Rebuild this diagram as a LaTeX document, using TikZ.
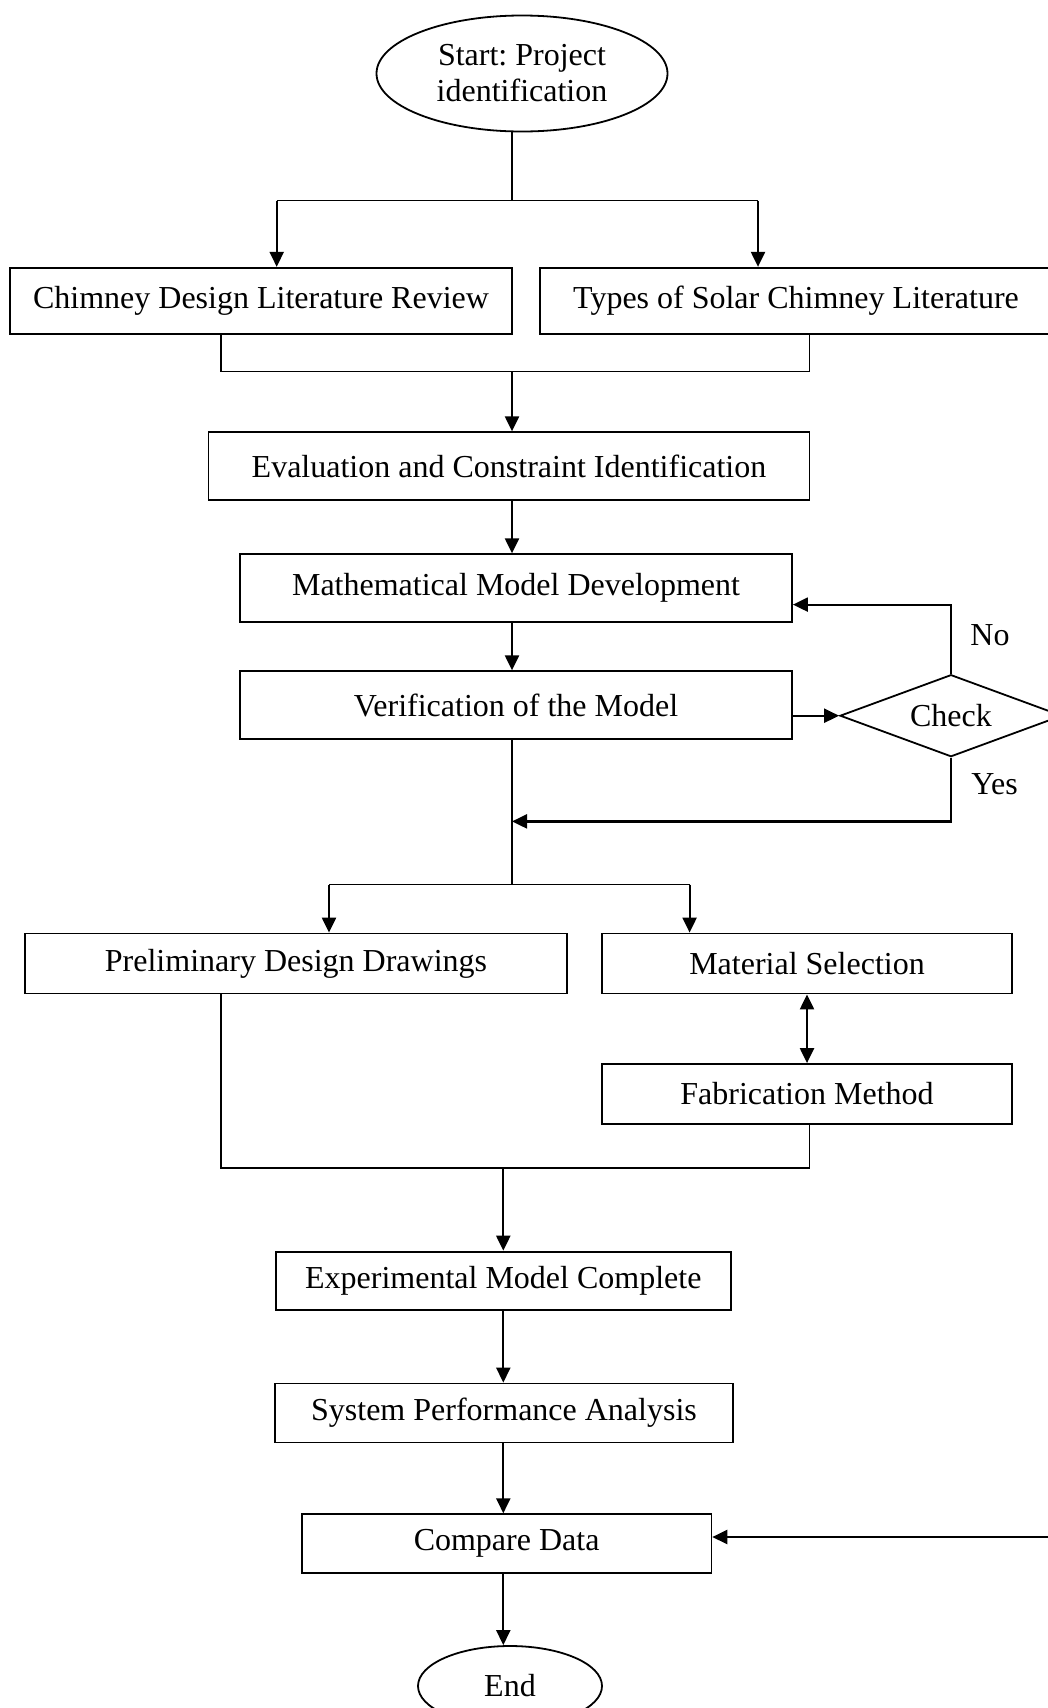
\documentclass[tikz,border=0pt]{standalone}
\usepackage{fontspec}
\setmainfont{Liberation Serif}
\frenchspacing
\usetikzlibrary{shapes.geometric,arrows.meta}
\tikzset{
  procbox/.style={draw, line width=1.8pt, rectangle, inner sep=0pt, font=\fontsize{32}{36}\selectfont},
  termnode/.style={draw, line width=1.8pt, ellipse, inner sep=0pt, align=center, font=\fontsize{32}{36}\selectfont},
  decide/.style={draw, line width=1.8pt, diamond, shape aspect=2.7, inner sep=0pt, minimum width=222pt, minimum height=82pt, font=\fontsize{32}{36}\selectfont},
  answer/.style={font=\fontsize{32}{36}\selectfont},
  link/.style={line width=1.7pt},
  flow/.style={line width=2.2pt, -{Triangle[length=15pt,width=14pt]}},
}
\begin{document}
\begin{tikzpicture}[x=1pt,y=-1pt]
% Parameters
\def\mainX{512};
\def\lowX{503.3};
\def\sideX{951};

\useasboundingbox (0,0) rectangle (1048,1708);
\clip (0,0) rectangle (1048,1708);
\fill[white] (0,0) rectangle (1048,1708);

% Boxes
\node[termnode, minimum width=291pt, minimum height=116pt] (start) at (522,73.5) {Start: Project\\identification};
\node[procbox, minimum width=502pt, minimum height=66.5pt] (litA) at (261,301) {Chimney Design Literature Review};
\node[procbox, minimum width=512pt, minimum height=66.5pt] (litB) at (796,301) {Types of Solar Chimney Literature};
\node[procbox, minimum width=601pt, minimum height=67.5pt] (evalC) at (509,466) {Evaluation and Constraint Identification};
\node[procbox, minimum width=552pt, minimum height=67.5pt] (mathM) at (516,588) {Mathematical Model Development};
\node[procbox, minimum width=552pt, minimum height=67.5pt] (verif) at (516,705) {Verification of the Model};
\node[decide] (check) at (\sideX,715.7) {Check};
\node[procbox, minimum width=542.5pt, minimum height=60pt] (prelim) at (296,963.5) {Preliminary Design Drawings};
\node[procbox, minimum width=410pt, minimum height=60pt] (matSel) at (807,963.5) {Material Selection};
\node[procbox, minimum width=410pt, minimum height=60pt] (fabM) at (807,1094) {Fabrication Method};
\node[procbox, minimum width=455.4pt, minimum height=58pt] (expM) at (503.3,1280.6) {Experimental Model Complete};
\node[procbox, minimum width=457.6pt, minimum height=59pt] (sysPerf) at (504,1413) {System Performance Analysis};
\node[procbox, minimum width=409.6pt, minimum height=58.8pt] (compare) at (506.6,1543.6) {Compare Data};
\node[termnode, minimum width=184pt, minimum height=80pt] (finish) at (510,1686) {End};

% Labels
\node[answer] (noLbl) at (990,635) {No};
\node[answer] (yesLbl) at (994.6,784) {Yes};

% Junctions
\coordinate (splitTop) at (\mainX,200.5);
\coordinate (splitTopL) at (276.7,200.5);
\coordinate (splitTopR) at (758,200.5);
\coordinate (mergeTopL) at (221,371.5);
\coordinate (mergeTopR) at (809.5,371.5);
\coordinate (noTurn) at (\sideX,604.6);
\coordinate (yesJoin) at (\mainX,821.4);
\coordinate (splitMid) at (\mainX,884.6);
\coordinate (splitMidL) at (329,884.6);
\coordinate (splitMidR) at (689.6,884.6);
\coordinate (mergeLowL) at (221,1168);
\coordinate (mergeLowR) at (809.5,1168);
\coordinate (feedIn) at (1060,1537);

% Literature
\draw[link] (splitTop |- start.south) -- (splitTop);
\draw[link] (splitTopL) -- (splitTopR);
\draw[flow] (splitTopL) -- (splitTopL |- litA.north);
\draw[flow] (splitTopR) -- (splitTopR |- litB.north);
\draw[link] (mergeTopL |- litA.south) -- (mergeTopL) -- (mergeTopR) -- (mergeTopR |- litB.south);
\draw[flow] (mergeTopL -| \mainX,0) -- (evalC.north -| \mainX,0);

% Model
\draw[flow] (evalC.south -| \mainX,0) -- (mathM.north -| \mainX,0);
\draw[flow] (mathM.south -| \mainX,0) -- (verif.north -| \mainX,0);
\draw[flow] (check.west -| verif.east) -- (check.west);
\draw[flow] (check.north) -- (noTurn) -- (noTurn -| mathM.east);
\draw[flow] (check.south) |- (yesJoin);
\draw[link] (verif.south -| splitMid) -- (splitMid);

% Design
\draw[link] (splitMidL) -- (splitMidR);
\draw[flow] (splitMidL) -- (splitMidL |- prelim.north);
\draw[flow] (splitMidR) -- (splitMidR |- matSel.north);
\draw[line width=2.2pt, {Triangle[length=15pt,width=14pt]}-{Triangle[length=15pt,width=14pt]}] (matSel.south) -- (fabM.north);
\draw[link] (mergeLowL |- prelim.south) -- (mergeLowL) -- (mergeLowR) -- (mergeLowR |- fabM.south);

% Testing
\draw[flow] (mergeLowL -| \lowX,0) -- (expM.north -| \lowX,0);
\draw[flow] (expM.south -| \lowX,0) -- (sysPerf.north -| \lowX,0);
\draw[flow] (sysPerf.south -| \lowX,0) -- (compare.north -| \lowX,0);
\draw[flow] (feedIn) -- (feedIn -| compare.east);
\draw[flow] (compare.south -| \lowX,0) -- (finish.north -| \lowX,0);

\end{tikzpicture}
\end{document}
